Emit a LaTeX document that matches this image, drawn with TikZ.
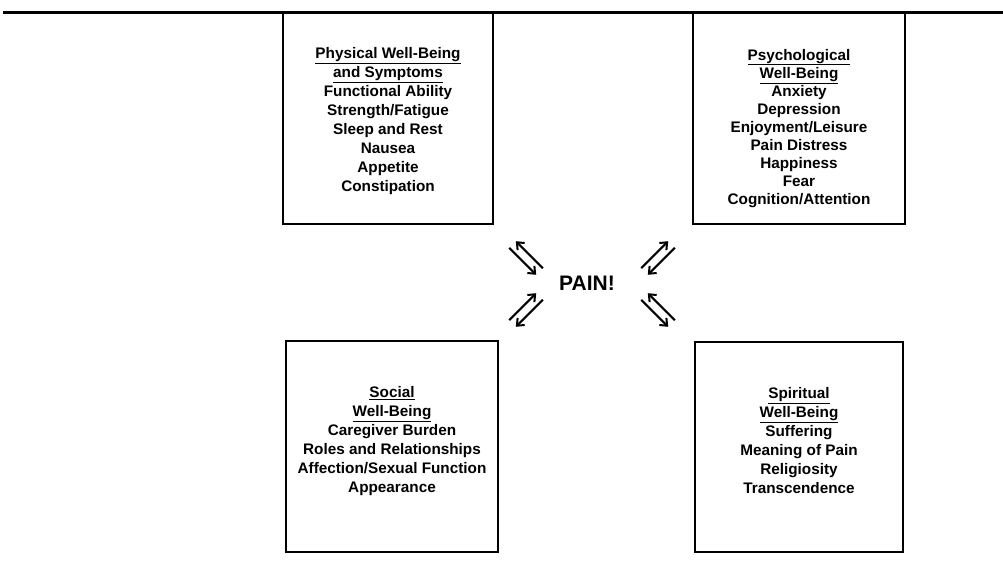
\documentclass[tikz,border=0pt]{standalone}
\usepackage{fontspec}
\setmainfont{Liberation Sans}
\usetikzlibrary{arrows.meta}
\tikzset{
  wbox/.style={draw=black, line width=1.4pt, inner sep=0pt},
  wtext/.style={align=center, inner sep=0pt, font=\fontsize{15.3}{19}\selectfont\bfseries},
  dbl/.style={line width=2pt, -{Straight Barb[length=6pt,width=10pt,line width=2pt]}},
  rule/.style={line width=3pt}
}
\begin{document}
\begin{tikzpicture}[x=1pt,y=-1pt]
\useasboundingbox (0,0) rectangle (1003,578);
\coordinate (rl) at (3,12.5);
\coordinate (rr) at (1003,12.5);
\draw[rule] (rl) -- (rr);

\node[wbox, minimum width=210pt, minimum height=212pt] (phys) at (388,118) {};
\node[wbox, minimum width=212pt, minimum height=212pt] (psych) at (799,118) {};
\node[wbox, minimum width=212pt, minimum height=211pt] (soc) at (392,446.5) {};
\node[wbox, minimum width=208pt, minimum height=210pt] (spir) at (799,447) {};

\node[wtext] (physT) at (388,121)
  {\underline{Physical Well-Being}\\ \underline{and Symptoms}\\ Functional Ability\\ Strength/Fatigue\\ Sleep and Rest\\ Nausea\\ Appetite\\ Constipation};
\node[wtext, font=\fontsize{15.3}{18.1}\selectfont\bfseries] (psychT) at (799,128.5)
  {\underline{Psychological}\\ \underline{Well-Being}\\ Anxiety\\ Depression\\ Enjoyment/Leisure\\ Pain Distress\\ Happiness\\ Fear\\ Cognition/Attention};
\node[wtext] (socT) at (392,441)
  {\underline{Social}\\ \underline{Well-Being}\\ Caregiver Burden\\ Roles and Relationships\\ Affection/Sexual Function\\ Appearance};
\node[wtext] (spirT) at (799,441)
  {\underline{Spiritual}\\ \underline{Well-Being}\\ Suffering\\ Meaning of Pain\\ Religiosity\\ Transcendence};

\node[font=\fontsize{21}{24}\selectfont\bfseries] (pain) at (587,283) {PAIN!};

% upper left pair
\coordinate (ula) at (509.2,247.8); \coordinate (ulb) at (536.2,274.8);
\coordinate (ulc) at (542.8,268.2); \coordinate (uld) at (515.8,241.2);
\draw[dbl] (ula) -- (ulb);
\draw[dbl] (ulc) -- (uld);
% upper right pair
\coordinate (ura) at (674.8,247.8); \coordinate (urb) at (647.8,274.8);
\coordinate (urc) at (641.2,268.2); \coordinate (urd) at (668.2,241.2);
\draw[dbl] (ura) -- (urb);
\draw[dbl] (urc) -- (urd);
% lower left pair
\coordinate (lla) at (509.2,320.2); \coordinate (llb) at (536.2,293.2);
\coordinate (llc) at (542.8,299.8); \coordinate (lld) at (515.8,326.8);
\draw[dbl] (lla) -- (llb);
\draw[dbl] (llc) -- (lld);
% lower right pair
\coordinate (lra) at (674.8,320.2); \coordinate (lrb) at (647.8,293.2);
\coordinate (lrc) at (641.2,299.8); \coordinate (lrd) at (668.2,326.8);
\draw[dbl] (lra) -- (lrb);
\draw[dbl] (lrc) -- (lrd);
\end{tikzpicture}
\end{document}
